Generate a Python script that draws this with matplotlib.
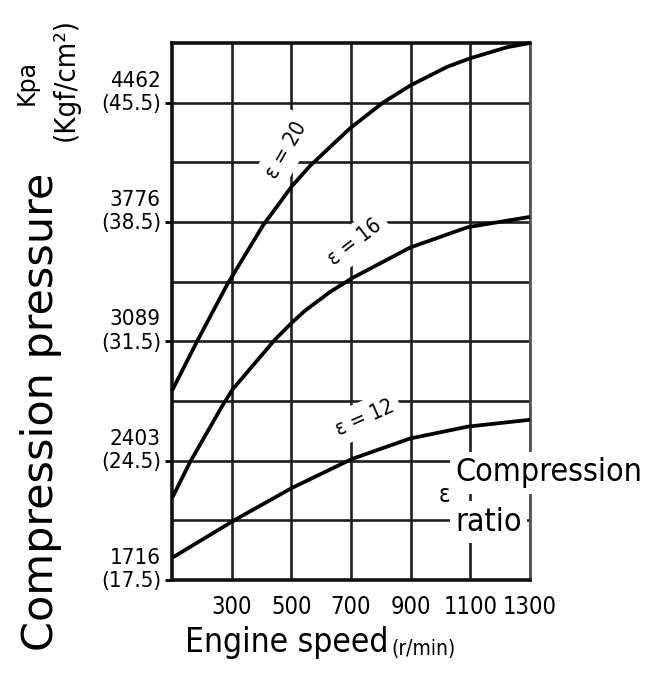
import numpy as np
import matplotlib
matplotlib.use("Agg")
import matplotlib.pyplot as plt
from matplotlib import font_manager
from matplotlib.font_manager import FontProperties
from matplotlib.transforms import ScaledTranslation

# look for a condensed / narrow face, the scan uses tall narrow lettering
narrow_file = None
for f in font_manager.fontManager.ttflist:
    if f.style != 'normal' or str(f.weight) not in ('400', 'normal'):
        continue
    if 'ondensed' in str(f.stretch) or 'Narrow' in f.name or 'Condensed' in f.name:
        narrow_file = f.fname
        if 'DejaVu' in f.name or 'Liberation' in f.name:
            break

def nfont(size):
    if narrow_file:
        return FontProperties(fname=narrow_file, size=size)
    return FontProperties(family='DejaVu Sans', size=size * 0.8)

########## DATA, pressure in kgf/cm2
speed_20 = [100, 184, 284, 405, 502, 563, 697, 807, 898, 1022, 1099, 1223, 1300]
press_20 = [28.6, 31.5, 34.8, 38.3, 40.6, 41.8, 44.0, 45.5, 46.5, 47.6, 48.1, 48.75, 49.0]

speed_16 = [100, 160, 268, 304, 445, 502, 546, 630, 703, 898, 1092, 1300]
press_16 = [22.3, 24.4, 27.7, 28.7, 31.6, 32.6, 33.3, 34.4, 35.2, 37.0, 38.2, 38.8]

speed_12 = [100, 318, 502, 703, 898, 1092, 1300]
press_12 = [18.8, 21.1, 22.9, 24.6, 25.8, 26.5, 26.9]

x_ticks = [300, 500, 700, 900, 1100, 1300]
y_ticks = [17.5, 24.5, 31.5, 38.5, 45.5]
y_kpa = ['1716', '2403', '3089', '3776', '4462']
y_minor = [21.0, 28.0, 35.0, 42.0]

########## CANVAS
fig = plt.figure(figsize=(6.6, 6.75), dpi=100)
ax = fig.add_axes([0.2606, 0.1407, 0.5424, 0.7956])
ax.set_xlim(100, 1300)
ax.set_ylim(17.5, 49.0)
ax.set_axisbelow(True)

ax.set_xticks(x_ticks)
ax.set_xticklabels([str(v) for v in x_ticks], fontproperties=nfont(17))
ax.set_yticks(y_ticks)
ax.set_yticklabels([f"{k}\n({v})" for k, v in zip(y_kpa, y_ticks)],
                   fontproperties=nfont(16), linespacing=1.2)
ax.set_yticks(y_minor, minor=True)
ax.tick_params(axis='x', length=0, pad=11)
ax.tick_params(axis='y', which='major', length=5, width=2, pad=3)
ax.tick_params(axis='y', which='minor', length=0)
ax.grid(True, which='both', color='#1e1e1e', linewidth=1.9)

for s in ax.spines.values():
    s.set_linewidth(2.6)
    s.set_color('#111111')
ax.spines['right'].set_linewidth(2.0)
ax.spines['right'].set_color('#555555')

# lift the two-line y labels a bit, like the scan
up = ScaledTranslation(0, 10 / 72, fig.dpi_scale_trans)
for lbl in ax.get_yticklabels():
    lbl.set_transform(lbl.get_transform() + up)

## CURVES
for sp, pr in [(speed_20, press_20), (speed_16, press_16), (speed_12, press_12)]:
    ax.plot(sp, pr, color='black', linewidth=2.7, zorder=4, clip_on=False,
            solid_capstyle='butt', solid_joinstyle='round')

## CURVE LABELS (white boxes cut the grid like in the scan)
box = dict(facecolor='white', edgecolor='none', pad=5)
ax.text(482, 42.7, 'ε = 20', rotation=60, fontproperties=nfont(15), ha='center',
        va='center', zorder=3, bbox=box)
ax.text(713, 37.3, 'ε = 16', rotation=38, fontproperties=nfont(15), ha='center',
        va='center', zorder=3, bbox=box)
ax.text(745, 27.0, 'ε = 12', rotation=24, fontproperties=nfont(15), ha='center',
        va='center', zorder=3, bbox=box)

## COMPRESSION RATIO NOTE
note = dict(facecolor='white', edgecolor='none', pad=4)
ax.text(1050, 23.8, 'Compression', fontproperties=nfont(23), ha='left', va='center',
        zorder=5, clip_on=False, bbox=note)
ax.text(1050, 20.9, 'ratio', fontproperties=nfont(23), ha='left', va='center',
        zorder=5, clip_on=False, bbox=note)
ax.text(1012, 22.5, 'ε', fontproperties=nfont(17), ha='center', va='center', zorder=5)

## AXIS TITLES
eng = fig.text(0.280, 0.034, 'Engine speed', fontproperties=nfont(24), ha='left',
               va='baseline')
ax.annotate('(r/min)', xy=(1, 0), xycoords=eng, xytext=(2, 0),
            textcoords='offset points', fontproperties=nfont(15), ha='left',
            va='bottom')
fig.text(0.062, 0.39, 'Compression pressure', family='DejaVu Sans', fontsize=31,
         rotation=90, ha='center', va='center')
fig.text(0.041, 0.878, 'Kpa', family='DejaVu Sans', fontsize=17, rotation=90,
         ha='center', va='center')
fig.text(0.100, 0.882, '(Kgf/cm²)', fontproperties=nfont(21), rotation=90,
         ha='center', va='center')

plt.savefig('out.png', dpi=100)
plt.close()
